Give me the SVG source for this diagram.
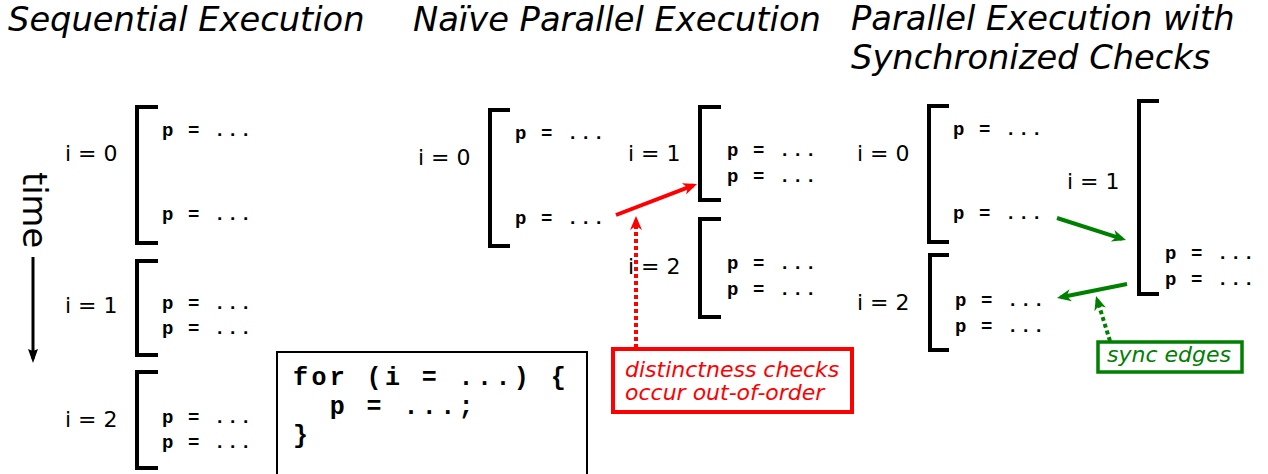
<svg xmlns="http://www.w3.org/2000/svg" width="1268" height="474" viewBox="0 0 1268 474">
  <style>
    .title { font-family: "DejaVu Sans", sans-serif; font-style: italic; font-size: 33.7px; fill: #000; }
    .iter  { font-family: "DejaVu Sans", sans-serif; font-size: 22px; fill: #000; }
    .stmt  { font-family: "Liberation Mono", monospace; font-weight: bold; font-size: 19px; letter-spacing: 1.6px; fill: #000; white-space: pre; }
    .code  { font-family: "Liberation Mono", monospace; font-weight: bold; font-size: 25px; letter-spacing: 3.4px; fill: #000; white-space: pre; }
    .brk   { fill: none; stroke: #000; stroke-width: 4; }
    .note  { font-family: "DejaVu Sans", sans-serif; font-style: italic; font-size: 22px; }
    .red   { stroke: #ff0000; }
    .green { stroke: #008000; }
    .edge  { fill: none; stroke-width: 4; }
    .dot   { stroke-dasharray: 4 3; }
  </style>
  <defs>
    <marker id="headRed" viewBox="-2 -8 18 16" markerWidth="18" markerHeight="16" refX="10" refY="0" orient="auto" markerUnits="userSpaceOnUse">
      <path d="M14,0 L0,-6 L4,0 L0,6 Z" fill="#ff0000"/>
    </marker>
    <marker id="headGreen" viewBox="-2 -8 18 16" markerWidth="18" markerHeight="16" refX="10" refY="0" orient="auto" markerUnits="userSpaceOnUse">
      <path d="M14,0 L0,-6 L4,0 L0,6 Z" fill="#008000"/>
    </marker>
    <marker id="headBlack" viewBox="-2 -8 18 16" markerWidth="18" markerHeight="16" refX="10" refY="0" orient="auto" markerUnits="userSpaceOnUse">
      <path d="M14,0 L0,-5 L2,0 L0,5 Z" fill="#000"/>
    </marker>
  </defs>

  <rect width="1268" height="474" fill="#fff"/>

  <!-- column titles -->
  <g id="titles">
    <text class="title" x="8" y="31">Sequential Execution</text>
    <text class="title" x="413" y="31">Naïve Parallel Execution</text>
    <text class="title" x="851" y="30">Parallel Execution with</text>
    <text class="title" x="851" y="69">Synchronized Checks</text>
  </g>

  <!-- time axis -->
  <g id="time-axis">
    <text class="title" style="font-style:normal" transform="translate(23,172) rotate(90)">time</text>
    <line x1="33" y1="257" x2="33" y2="359" stroke="#000" stroke-width="3" marker-end="url(#headBlack)"/>
  </g>

  <!-- sequential execution -->
  <g id="seq-i0">
    <text class="iter" x="65" y="161">i = 0</text>
    <path class="brk" d="M158,107 H137 V243 H158"/>
    <text class="stmt" x="162" y="136">p = ...</text>
    <text class="stmt" x="162" y="220">p = ...</text>
  </g>
  <g id="seq-i1">
    <text class="iter" x="65" y="313">i = 1</text>
    <path class="brk" d="M158,261 H137 V355 H158"/>
    <text class="stmt" x="162" y="309">p = ...</text>
    <text class="stmt" x="162" y="334">p = ...</text>
  </g>
  <g id="seq-i2">
    <text class="iter" x="65" y="427">i = 2</text>
    <path class="brk" d="M158,372 H137 V468 H158"/>
    <text class="stmt" x="162" y="423">p = ...</text>
    <text class="stmt" x="162" y="448">p = ...</text>
  </g>

  <!-- source loop -->
  <g id="loop-code">
    <rect x="277" y="352" width="310" height="130" fill="#fff" stroke="#000" stroke-width="2"/>
    <text class="code" x="293" y="385">for (i = ...) {</text>
    <text class="code" x="293" y="414">  p = ...;</text>
    <text class="code" x="293" y="443">}</text>
  </g>

  <!-- naive parallel execution -->
  <g id="naive-i0">
    <text class="iter" x="418" y="165">i = 0</text>
    <path class="brk" d="M510,110 H490 V246 H510"/>
    <text class="stmt" x="515" y="139">p = ...</text>
    <text class="stmt" x="515" y="224">p = ...</text>
  </g>
  <g id="naive-i1">
    <text class="iter" x="628" y="161">i = 1</text>
    <path class="brk" d="M721,107 H700 V200 H721"/>
    <text class="stmt" x="727" y="156">p = ...</text>
    <text class="stmt" x="727" y="182">p = ...</text>
  </g>
  <g id="naive-i2">
    <text class="iter" x="628" y="274">i = 2</text>
    <path class="brk" d="M721,219 H700 V317 H721"/>
    <text class="stmt" x="727" y="269">p = ...</text>
    <text class="stmt" x="727" y="295">p = ...</text>
  </g>
  <g id="naive-note">
    <rect x="613" y="349" width="239" height="63" fill="#fff" stroke="#ff0000" stroke-width="4"/>
    <text class="note" x="625" y="377" fill="#ff0000">distinctness checks</text>
    <text class="note" x="625" y="400" fill="#ff0000">occur out-of-order</text>
  </g>

  <!-- synchronized parallel execution -->
  <g id="sync-i0">
    <text class="iter" x="857" y="161">i = 0</text>
    <path class="brk" d="M949,106 H929 V242 H949"/>
    <text class="stmt" x="953" y="135">p = ...</text>
    <text class="stmt" x="953" y="219">p = ...</text>
  </g>
  <g id="sync-i1">
    <text class="iter" x="1067" y="189">i = 1</text>
    <path class="brk" d="M1159,101 H1139 V294 H1159"/>
    <text class="stmt" x="1165" y="259">p = ...</text>
    <text class="stmt" x="1165" y="285">p = ...</text>
  </g>
  <g id="sync-i2">
    <text class="iter" x="857" y="310">i = 2</text>
    <path class="brk" d="M949,255 H930 V350 H949"/>
    <text class="stmt" x="955" y="306">p = ...</text>
    <text class="stmt" x="955" y="332">p = ...</text>
  </g>
  <g id="sync-note">
    <rect x="1098" y="342" width="144" height="30" fill="#fff" stroke="#008000" stroke-width="3.5"/>
    <text class="note" x="1107" y="362" fill="#008000">sync edges</text>
  </g>

  <!-- connectors -->
  <g id="connectors">
    <line class="edge red" x1="616" y1="215" x2="693.3" y2="185.4" marker-end="url(#headRed)"/>
    <line class="edge red dot" x1="636" y1="348" x2="636" y2="220" marker-end="url(#headRed)"/>
    <line class="edge green" x1="1057" y1="218" x2="1122.2" y2="238.8" marker-end="url(#headGreen)"/>
    <line class="edge green" x1="1127" y1="284" x2="1060.9" y2="297.2" marker-end="url(#headGreen)"/>
    <line class="edge green dot" x1="1110" y1="341" x2="1097.2" y2="299.8" marker-end="url(#headGreen)"/>
  </g>
</svg>
